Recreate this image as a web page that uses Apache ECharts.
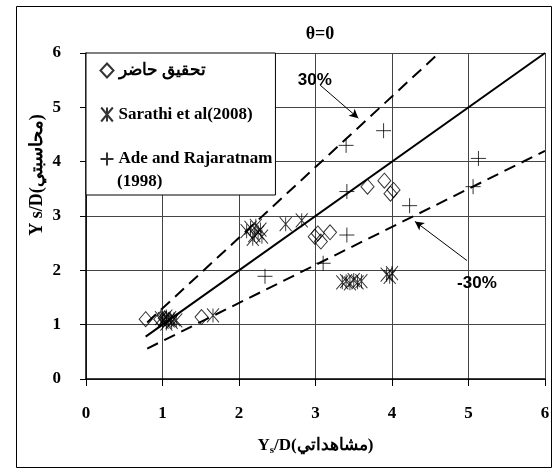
<!DOCTYPE html>
<html>
<head>
<meta charset="utf-8">
<script src="https://cdn.jsdelivr.net/npm/echarts@6/dist/echarts.min.js"></script>
<style>
html,body{margin:0;padding:0;background:#fff;}
#c{width:557px;height:473px;}
</style>
</head>
<body>
<div id="c"></div>
<script>
// ---- data ----
var seriesNames = ['تحقيق حاضر', 'Sarathi et al(2008)', 'Ade and Rajaratnam'];
var presentX = [0.78, 0.97, 1.03, 1.51, 2.99, 3.07, 3.03, 3.19, 3.68, 3.90, 4.02, 3.98];
var presentY = [1.10, 1.10, 1.12, 1.14, 2.62, 2.53, 2.68, 2.70, 3.54, 3.65, 3.48, 3.41];
var sarathiX = [1.00, 1.02, 1.05, 1.08, 1.10, 1.12, 1.15, 1.05, 1.18, 0.98, 1.66,
                2.10, 2.15, 2.20, 2.22, 2.25, 2.30, 2.28, 2.18, 2.61, 2.82,
                3.35, 3.40, 3.45, 3.50, 3.55, 3.60, 3.93, 3.97, 4.00];
var sarathiY = [1.05, 1.10, 1.15, 1.08, 1.12, 1.05, 1.10, 1.02, 1.08, 1.12, 1.17,
                2.72, 2.78, 2.65, 2.82, 2.70, 2.62, 2.75, 2.58, 2.85, 2.92,
                1.78, 1.80, 1.76, 1.82, 1.78, 1.80, 1.92, 1.88, 1.95];
var adeX = [2.34, 3.10, 3.41, 3.41, 3.40, 3.89, 4.23, 5.06, 5.13];
var adeY = [1.89, 2.13, 2.65, 3.45, 4.30, 4.57, 3.19, 3.54, 4.06];
var perfectX = [0.78, 6];
var perfectY = [0.78, 6];
var upperX = [0.8, 4.615];
var upperY = [1.04, 6];
var lowerX = [0.8, 6];
var lowerY = [0.56, 4.2];
var axisTicks = [0, 1, 2, 3, 4, 5, 6];
var titleText = 'θ=0';
var xName = ['Y', 's', '/D(مشاهداتي)'];
var yName = 'Y s/D(محاسبتي)';
var plusLabel = '30%';
var minusLabel = '-30%';
var legendExtra = '(1998)';

function zip(a, b) { return a.map(function (v, i) { return [v, b[i]]; }); }

var serif = "'Liberation Serif','Times New Roman',serif";
var sans = "'Liberation Sans',Arial,sans-serif";
var asteriskPath = 'path://M0,0 L10,12 M10,0 L0,12 M5,0 L5,12';
var plusPath = 'path://M5,0 L5,10 M0,5 L10,5';

var chart = echarts.init(document.getElementById('c'), null, {renderer: 'canvas'});
var option = {
  animation: false,
  backgroundColor: '#fff',
  title: {
    text: titleText, left: 315, top: 20, textAlign: 'center',
    textStyle: {fontFamily: serif, fontWeight: 'bold', fontSize: 18, color: '#000'}
  },
  grid: {left: 86, right: 12, top: 53, bottom: 94},
  xAxis: {
    type: 'value', min: axisTicks[0], max: axisTicks[axisTicks.length - 1], interval: 1,
    axisLine: {show: true, onZero: false, lineStyle: {color: '#000', width: 1.5}},
    axisTick: {show: true, length: 7, lineStyle: {color: '#000'}},
    splitLine: {show: true, lineStyle: {color: '#444', width: 1}},
    axisLabel: {margin: 26, fontFamily: serif, fontWeight: 'bold', fontSize: 17, color: '#000'},
    name: '{n|' + xName[0] + '}{s|' + xName[1] + '}{n|' + xName[2] + '}',
    nameLocation: 'middle', nameGap: 56,
    nameTextStyle: {
      rich: {
        n: {fontFamily: serif, fontWeight: 'bold', fontSize: 17, color: '#000'},
        s: {fontFamily: serif, fontWeight: 'bold', fontSize: 11, color: '#000', padding: [10, 0, 0, 0]}
      }
    }
  },
  yAxis: {
    type: 'value', min: axisTicks[0], max: axisTicks[axisTicks.length - 1], interval: 1,
    axisLine: {show: true, onZero: false, lineStyle: {color: '#000', width: 1.5}},
    axisTick: {show: true, length: 6, lineStyle: {color: '#000'}},
    splitLine: {show: true, lineStyle: {color: '#444', width: 1}},
    axisLabel: {margin: 25, fontFamily: serif, fontWeight: 'bold', fontSize: 17, color: '#000'}
  },
  legend: {
    orient: 'vertical', left: 86, top: 53,
    padding: [9, 3, 27, 12], itemGap: 26, itemWidth: 13, itemHeight: 14,
    backgroundColor: '#fff', borderColor: '#000', borderWidth: 1,
    data: seriesNames,
    textStyle: {fontFamily: serif, fontWeight: 'bold', fontSize: 17, color: '#000', lineHeight: 14},
    z: 10
  },
  graphic: [
    {type: 'rect', shape: {x: 16.5, y: 6.5, width: 535, height: 461}, style: {fill: 'none', stroke: '#000', lineWidth: 1}, z: 100, silent: true},
    {type: 'text', left: 117, top: 173, style: {text: legendExtra, font: 'bold 17px ' + serif, fill: '#000'}, z: 100},
    {type: 'text', x: 37, y: 175, rotation: Math.PI / 2,
     style: {text: yName, font: 'bold 18px ' + serif, fill: '#000', textAlign: 'center', textVerticalAlign: 'middle'}, z: 100}
  ],
  series: [
    {
      name: seriesNames[0], type: 'scatter', data: zip(presentX, presentY),
      symbol: 'diamond', symbolSize: [13, 15],
      itemStyle: {color: 'rgba(255,255,255,0)', borderColor: '#000', borderWidth: 1}, z: 5
    },
    {
      name: seriesNames[1], type: 'scatter', data: zip(sarathiX, sarathiY),
      symbol: asteriskPath, symbolSize: [12, 14],
      itemStyle: {color: 'none', borderColor: '#000', borderWidth: 1}, z: 5
    },
    {
      name: seriesNames[2], type: 'scatter', data: zip(adeX, adeY),
      symbol: plusPath, symbolSize: [15, 15],
      itemStyle: {color: 'none', borderColor: '#000', borderWidth: 1}, z: 5
    },
    {
      name: 'perfect', type: 'line', data: zip(perfectX, perfectY), symbol: 'none',
      lineStyle: {color: '#000', width: 2}, z: 4
    },
    {
      name: 'upper', type: 'line', data: zip(upperX, upperY), symbol: 'none',
      lineStyle: {color: '#000', width: 2, type: [12, 7]}, z: 4
    },
    {
      name: 'lower', type: 'line', data: zip(lowerX, lowerY), symbol: 'none',
      lineStyle: {color: '#000', width: 2, type: [12, 7]}, z: 4,
      markLine: {
        silent: true, symbol: ['none', 'arrow'], symbolSize: [7, 9],
        lineStyle: {color: '#000', width: 1, type: 'solid'}, label: {show: false},
        data: [
          [{coord: [3.06, 5.41]}, {coord: [3.56, 4.80]}],
          [{coord: [4.98, 2.18]}, {coord: [4.30, 2.90]}]
        ]
      },
      markPoint: {
        silent: true, symbol: 'circle', symbolSize: 1, itemStyle: {color: 'rgba(0,0,0,0)'},
        label: {show: true, position: 'inside', fontFamily: sans, fontWeight: 'bold', fontSize: 17, color: '#000'},
        data: [
          {coord: [2.99, 5.50], value: plusLabel, label: {formatter: plusLabel}},
          {coord: [5.11, 1.77], value: minusLabel, label: {formatter: minusLabel}}
        ]
      }
    }
  ]
};
chart.setOption(option);
</script>
</body>
</html>
